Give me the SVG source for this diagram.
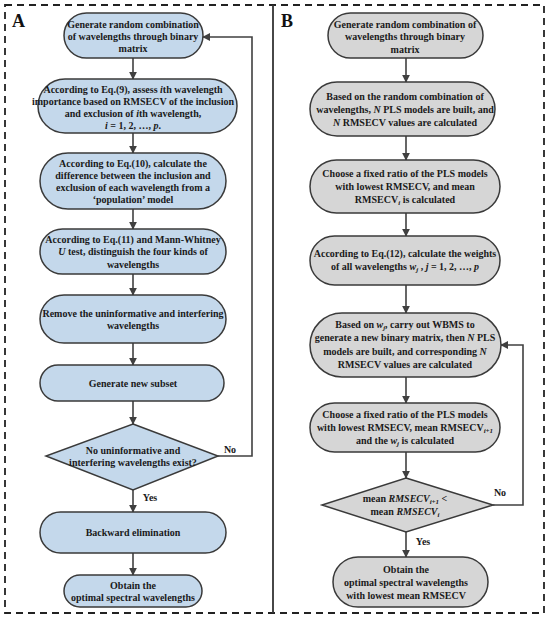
<svg xmlns="http://www.w3.org/2000/svg" width="550" height="618" viewBox="0 0 550 618">
<defs>
<marker id="ah" viewBox="0 0 10 10" refX="9" refY="5" markerWidth="8" markerHeight="8" markerUnits="userSpaceOnUse" orient="auto">
<path d="M0,0 L10,5 L0,10 Z" fill="#404040"/>
</marker>
<style>
.t{font-family:"Liberation Serif","Times New Roman",serif;font-weight:bold;font-size:10px;fill:#1a1a1a;text-anchor:middle}
.lbl{font-family:"Liberation Serif","Times New Roman",serif;font-weight:bold;font-size:18px;fill:#111}
.na{fill:#c4d8eb;stroke:#3a3a3a;stroke-width:1.5}
.nb{fill:#d6d6d6;stroke:#3a3a3a;stroke-width:1.5}
.c{fill:none;stroke:#404040;stroke-width:1.6;marker-end:url(#ah)}
.i{font-style:italic}
.s{font-size:7px}
</style>
</defs>
<rect width="550" height="618" fill="#fff"/>
<rect x="5" y="5" width="539" height="608" fill="none" stroke="#222" stroke-width="1.8" stroke-dasharray="7,5"/>
<line x1="273" y1="5" x2="273" y2="613" stroke="#333" stroke-width="1.8"/>
<text class="lbl" x="12" y="27">A</text>
<text class="lbl" x="281" y="27">B</text>

<g id="connectors">
<path class="c" d="M133,58 V79"/>
<path class="c" d="M133,133 V153"/>
<path class="c" d="M133,209 V229"/>
<path class="c" d="M133,274 V295"/>
<path class="c" d="M133,343 V365"/>
<path class="c" d="M133,401 V424"/>
<path class="c" d="M133,490 V512"/>
<path class="c" d="M133,553 V575"/>
<path class="c" d="M218,456 H252 V37 H203"/>
<path class="c" d="M406,58 V82"/>
<path class="c" d="M406,136 V160"/>
<path class="c" d="M406,213 V236"/>
<path class="c" d="M406,285 V313"/>
<path class="c" d="M406,377 V403"/>
<path class="c" d="M406,452 V478"/>
<path class="c" d="M406,532 V557"/>
<path class="c" d="M493,505 H523 V345 H501"/>
<text class="t" x="230" y="453">No</text>
<text class="t" x="150" y="501">Yes</text>
<text class="t" x="500" y="496">No</text>
<text class="t" x="423" y="545">Yes</text>
</g>

<g id="A1">
<rect class="na" x="64" y="13" width="139" height="45" rx="22.5"/>
<text class="t" x="133" y="27.5">Generate random combination</text>
<text class="t" x="133" y="39.7">of wavelengths through binary</text>
<text class="t" x="133" y="52">matrix</text>
</g>
<g id="A2">
<rect class="na" x="38" y="79" width="199" height="54" rx="27"/>
<text class="t" x="133" y="92.5">According to Eq.(9), assess <tspan class="i">i</tspan>th wavelength</text>
<text class="t" x="133" y="104.8">importance based on RMSECV of the inclusion</text>
<text class="t" x="133" y="117.1">and exclusion of <tspan class="i">i</tspan>th wavelength,</text>
<text class="t" x="133" y="129.4"><tspan class="i">i</tspan> = 1, 2, …, <tspan class="i">p</tspan>.</text>
</g>
<g id="A3">
<rect class="na" x="40" y="153" width="186" height="56" rx="28"/>
<text class="t" x="133" y="166.5">According to Eq.(10), calculate the</text>
<text class="t" x="133" y="178.8">difference between the inclusion and</text>
<text class="t" x="133" y="191.1">exclusion of each wavelength from a</text>
<text class="t" x="133" y="203.4">‘population’  model</text>
</g>
<g id="A4">
<rect class="na" x="40" y="229" width="186" height="45" rx="22.5"/>
<text class="t" x="133" y="243">According to Eq.(11) and Mann-Whitney</text>
<text class="t" x="133" y="255.3"><tspan class="i">U</tspan> test, distinguish the four kinds of</text>
<text class="t" x="133" y="267.6">wavelengths</text>
</g>
<g id="A5">
<rect class="na" x="40" y="295" width="186" height="48" rx="24"/>
<text class="t" x="133" y="316.5">Remove the uninformative and interfering</text>
<text class="t" x="133" y="328.8">wavelengths</text>
</g>
<g id="A6">
<rect class="na" x="40" y="365" width="184" height="36" rx="18"/>
<text class="t" x="133" y="386.5">Generate new subset</text>
</g>
<g id="A7">
<polygon class="na" points="133,424 218,456 133,490 46,456"/>
<text class="t" x="133" y="454">No uninformative and</text>
<text class="t" x="133" y="466.3">interfering wavelengths exist?</text>
</g>
<g id="A8">
<rect class="na" x="40" y="512" width="186" height="41" rx="20.5"/>
<text class="t" x="133" y="536">Backward elimination</text>
</g>
<g id="A9">
<rect class="na" x="64" y="575" width="138" height="32" rx="16"/>
<text class="t" x="133" y="588.5">Obtain the</text>
<text class="t" x="133" y="600.8">optimal spectral wavelengths</text>
</g>

<g id="B1">
<rect class="nb" x="328" y="13" width="155" height="45" rx="22.5"/>
<text class="t" x="405" y="27.5">Generate random combination of</text>
<text class="t" x="405" y="40">wavelengths through binary</text>
<text class="t" x="405" y="52.5">matrix</text>
</g>
<g id="B2">
<rect class="nb" x="310" y="82" width="185" height="54" rx="27"/>
<text class="t" x="405" y="99.5">Based on the random combination of</text>
<text class="t" x="405" y="112.5">wavelengths, <tspan class="i">N</tspan> PLS models are built, and</text>
<text class="t" x="405" y="125.5"><tspan class="i">N</tspan> RMSECV values are calculated</text>
</g>
<g id="B3">
<rect class="nb" x="310" y="160" width="190" height="53" rx="26.5"/>
<text class="t" x="405" y="177">Choose a fixed ratio of the PLS models</text>
<text class="t" x="405" y="190">with lowest RMSECV, and mean</text>
<text class="t" x="405" y="203">RMSECV<tspan class="s i" dy="2">i</tspan><tspan dy="-2"> is calculated</tspan></text>
</g>
<g id="B4">
<rect class="nb" x="310" y="236" width="190" height="49" rx="24.5"/>
<text class="t" x="405" y="257">According to Eq.(12), calculate the weights</text>
<text class="t" x="405" y="270">of all wavelengths <tspan class="i">w</tspan><tspan class="s i" dy="2">j</tspan><tspan dy="-2"> , </tspan><tspan class="i">j</tspan> = 1, 2, …, <tspan class="i">p</tspan></text>
</g>
<g id="B5">
<rect class="nb" x="310" y="313" width="191" height="64" rx="32"/>
<text class="t" x="405" y="328">Based on <tspan class="i">w</tspan><tspan class="s i" dy="2">j</tspan><tspan dy="-2">, carry out WBMS to</tspan></text>
<text class="t" x="405" y="341.3">generate a new binary matrix, then <tspan class="i">N</tspan> PLS</text>
<text class="t" x="405" y="354.6">models are built, and corresponding <tspan class="i">N</tspan></text>
<text class="t" x="405" y="367.9">RMSECV values are calculated</text>
</g>
<g id="B6">
<rect class="nb" x="310" y="403" width="190" height="49" rx="24.5"/>
<text class="t" x="405" y="417.5">Choose a fixed ratio of the PLS models</text>
<text class="t" x="405" y="430.5">with lowest RMSECV, mean RMSECV<tspan class="s i" dy="2">i+1</tspan></text>
<text class="t" x="405" y="443.5">and the <tspan class="i">w</tspan><tspan class="s i" dy="2">j</tspan><tspan dy="-2"> is calculated</tspan></text>
</g>
<g id="B7">
<polygon class="nb" points="406,478 493,505 406,532 322,505"/>
<text class="t" x="405" y="502">mean <tspan class="i">RMSECV</tspan><tspan class="s i" dy="2">i+1</tspan><tspan dy="-2"> &lt;</tspan></text>
<text class="t" x="405" y="515">mean <tspan class="i">RMSECV</tspan><tspan class="s i" dy="2">i</tspan></text>
</g>
<g id="B8">
<rect class="nb" x="333" y="557" width="155" height="50" rx="25"/>
<text class="t" x="406" y="573">Obtain the</text>
<text class="t" x="406" y="586">optimal spectral wavelengths</text>
<text class="t" x="406" y="599">with lowest mean RMSECV</text>
</g>
</svg>
